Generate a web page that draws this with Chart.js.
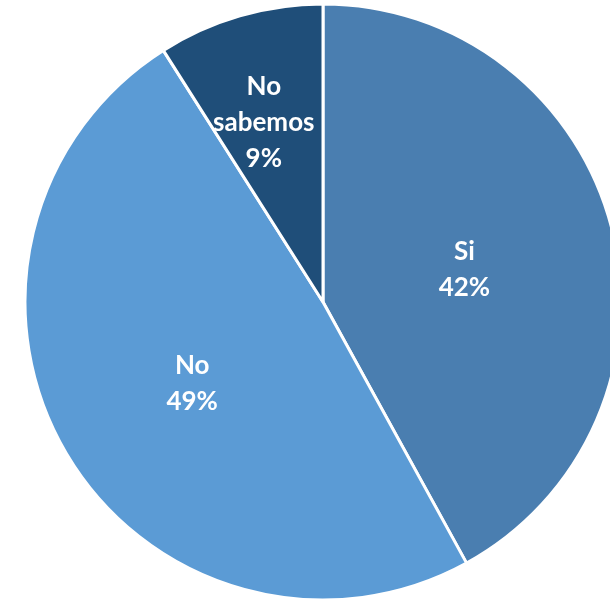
<!DOCTYPE html>
<html>
<head>
<meta charset="utf-8">
<script src="https://cdn.jsdelivr.net/npm/chart.js@4/dist/chart.umd.min.js"></script>
<style>
  html, body { margin: 0; padding: 0; background: #fff; overflow: hidden; }
  #wrap { position: absolute; left: 0; top: 0; width: 646px; height: 604px; }
</style>
</head>
<body>
<div id="wrap"><canvas id="pie"></canvas></div>
<script>
// respuestas de la encuesta
const categorias = ['Si', 'No', 'No sabemos'];
const porcentajes = [42, 49, 9];
const etiquetas = [['Si', '42%'], ['No', '49%'], ['No', 'sabemos', '9%']];
const colores = ['#4a7eb0', '#5b9bd5', '#1f4e79'];

// dibuja el texto de cada porción a una fracción del radio
const etiquetasPlugin = {
  id: 'etiquetas',
  afterDatasetsDraw(chart, args, opts){
    const ctx = chart.ctx;
    const meta = chart.getDatasetMeta(0);
    ctx.save();
    ctx.fillStyle = '#fff';
    ctx.font = 'bold 26px Lato, "Open Sans", sans-serif';
    ctx.textAlign = 'center';
    ctx.textBaseline = 'middle';
    meta.data.forEach((arc, i) => {
      const mid = (arc.startAngle + arc.endAngle) / 2;
      const r = arc.outerRadius * opts.fraccion[i];
      const x = arc.x + Math.cos(mid) * r + opts.desplazX[i];
      const y = arc.y + Math.sin(mid) * r + opts.desplazY;
      const lineas = etiquetas[i];
      const h = opts.interlineado;
      lineas.forEach((t, j) => {
        ctx.fillText(t, x, y + (j - (lineas.length - 1) / 2) * h);
      });
    });
    ctx.restore();
  }
};

new Chart(document.getElementById('pie'), {
  type: 'pie',
  data: {
    labels: categorias,
    datasets: [{
      data: porcentajes,
      backgroundColor: colores,
      borderColor: '#fff',
      borderWidth: 3
    }]
  },
  options: {
    responsive: true,
    maintainAspectRatio: false,
    animation: false,
    radius: 298,
    plugins: {
      legend: { display: false },
      tooltip: { enabled: false },
      etiquetas: { fraccion: [0.49, 0.51, 0.64], desplazX: [0, 0, -6], interlineado: 36, desplazY: 4 }
    }
  },
  plugins: [etiquetasPlugin]
});
</script>
</body>
</html>
